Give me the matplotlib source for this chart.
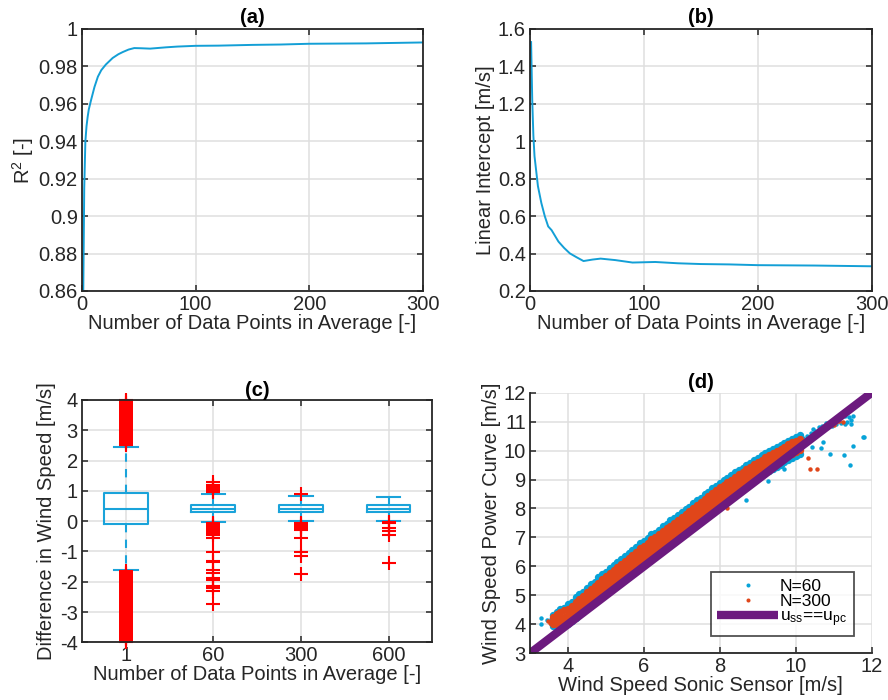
import matplotlib
matplotlib.use("Agg")
import matplotlib.pyplot as plt
from matplotlib.ticker import FuncFormatter, FixedLocator

plt.rcParams['font.family'] = ['Liberation Sans', 'DejaVu Sans']
plt.rcParams['mathtext.fontset'] = 'custom'
plt.rcParams['mathtext.rm'] = 'Liberation Sans'
plt.rcParams['mathtext.it'] = 'Liberation Sans:italic'
plt.rcParams['mathtext.bf'] = 'Liberation Sans:bold'
plt.rcParams['axes.unicode_minus'] = False

# ---------------- data ----------------
# (a) R^2 vs number of data points in average
a_n = [1, 2, 3, 4, 5, 6, 8, 11, 14, 17, 21, 27, 32, 36, 41, 46, 52, 60, 74, 84,
       100, 120, 150, 175, 200, 250, 300]
a_r2 = [0.85, 0.915, 0.94, 0.948, 0.953, 0.957, 0.962, 0.969, 0.9745, 0.978, 0.981,
        0.9845, 0.9865, 0.9877, 0.989, 0.9898, 0.9897, 0.9895, 0.9902, 0.9906,
        0.991, 0.9911, 0.9915, 0.9917, 0.9921, 0.9923, 0.9928]

# (b) linear intercept vs number of data points in average
b_n = [1, 2, 3, 4, 7, 10, 13, 16, 19, 25, 30, 35, 41, 47, 55, 62, 75, 90, 110,
       130, 150, 175, 200, 250, 300]
b_int = [1.53, 1.22, 1.03, 0.92, 0.76, 0.67, 0.60, 0.545, 0.525, 0.464, 0.43, 0.401,
         0.38, 0.36, 0.368, 0.373, 0.365, 0.352, 0.355, 0.348, 0.344, 0.342, 0.338,
         0.336, 0.332]

# (c) box plot statistics
c_labels = ['1', '60', '300', '600']
c_q1 = [-0.09, 0.29, 0.30, 0.30]
c_med = [0.39, 0.41, 0.41, 0.41]
c_q3 = [0.92, 0.54, 0.54, 0.54]
c_whislo = [-1.61, -0.04, 0.00, 0.02]
c_whishi = [2.45, 0.88, 0.84, 0.80]
c_fliers_1 = [2.50, 2.55, 2.60, 2.65, 2.70, 2.75, 2.80, 2.85, 2.90, 2.95, 3.00, 3.05,
              3.10, 3.15, 3.20, 3.25, 3.30, 3.35, 3.40, 3.45, 3.50, 3.55, 3.60, 3.65,
              3.70, 3.75, 3.80, 3.85, 3.90, 3.95, 4.00,
              -1.65, -1.70, -1.75, -1.80, -1.85, -1.90, -1.95, -2.00, -2.05, -2.10,
              -2.15, -2.20, -2.25, -2.30, -2.35, -2.40, -2.45, -2.50, -2.55, -2.60,
              -2.65, -2.70, -2.75, -2.80, -2.85, -2.90, -2.95, -3.00, -3.05, -3.10,
              -3.15, -3.20, -3.25, -3.30, -3.35, -3.40, -3.45, -3.50, -3.55, -3.60,
              -3.65, -3.70, -3.75, -3.80, -3.85, -3.90, -3.95, -4.00]
c_fliers_60 = [0.95, 1.00, 1.05, 1.10, 1.15, 1.20, 1.28,
               -0.05, -0.10, -0.15, -0.20, -0.25, -0.30, -0.35, -0.40, -0.45,
               -0.57, -1.01, -1.32, -1.36, -1.62, -1.71, -1.89, -1.95, -2.15,
               -2.22, -2.31, -2.74]
c_fliers_300 = [0.88, -0.05, -0.10, -0.15, -0.20, -0.25, -0.30,
                -0.57, -1.03, -1.15, -1.76]
c_fliers_600 = [-0.03, -0.06, -0.24, -0.34, -0.45, -1.39]

# (d) scatter: wind speed power curve vs sonic sensor
d_x = [3.6, 3.7, 3.8, 3.9, 4.0, 4.1, 4.2, 4.3, 4.4, 4.5, 4.6, 4.7, 4.8, 4.9, 5.0,
       5.1, 5.2, 5.3, 5.4, 5.5, 5.6, 5.7, 5.8, 5.9, 6.0, 6.1, 6.2, 6.3, 6.4, 6.5,
       6.6, 6.7, 6.8, 6.9, 7.0, 7.1, 7.2, 7.3, 7.4, 7.5, 7.6, 7.7, 7.8, 7.9, 8.0,
       8.1, 8.2, 8.3, 8.4, 8.5, 8.6, 8.7, 8.8, 8.9, 9.0, 9.1, 9.2, 9.3, 9.4, 9.5,
       9.6, 9.7, 9.8, 9.9, 10.0, 10.1]
d_n60_upper = [4.33, 4.43, 4.52, 4.57, 4.69, 4.78, 4.93, 5.04, 5.12, 5.27, 5.38, 5.47,
               5.62, 5.73, 5.82, 5.95, 6.05, 6.16, 6.27, 6.35, 6.48, 6.57, 6.68, 6.80,
               6.88, 6.98, 7.12, 7.17, 7.27, 7.40, 7.46, 7.60, 7.67, 7.77, 7.88, 7.98,
               8.06, 8.18, 8.30, 8.37, 8.50, 8.56, 8.70, 8.78, 8.88, 8.98, 9.06, 9.15,
               9.26, 9.32, 9.41, 9.50, 9.58, 9.68, 9.75, 9.83, 9.90, 9.98, 10.05, 10.12,
               10.19, 10.26, 10.33, 10.39, 10.46, 10.52]
d_n60_lower = [3.95, 3.96, 3.97, 3.99, 4.02, 4.10, 4.22, 4.33, 4.43, 4.56, 4.67, 4.78,
               4.89, 5.01, 5.11, 5.23, 5.33, 5.44, 5.53, 5.65, 5.76, 5.86, 5.97, 6.06,
               6.18, 6.27, 6.38, 6.46, 6.56, 6.67, 6.76, 6.86, 6.95, 7.05, 7.15, 7.25,
               7.37, 7.46, 7.56, 7.67, 7.77, 7.87, 7.97, 8.08, 8.18, 8.27, 8.36, 8.45,
               8.54, 8.63, 8.71, 8.80, 8.89, 8.98, 9.07, 9.14, 9.22, 9.29, 9.37, 9.44,
               9.51, 9.59, 9.66, 9.74, 9.81, 9.88]
d_n60_extra_x = [3.30, 3.30, 3.45, 3.55, 3.55, 10.2, 10.3, 10.4, 10.5, 10.45, 10.6, 10.7,
                 10.8, 10.9, 11.0, 11.1, 11.2, 11.3, 11.4, 11.45, 11.5, 11.35, 11.2,
                 11.05, 10.95, 10.85, 10.6, 11.3, 11.45, 10.7,
                 10.71, 10.66, 10.42, 10.89, 11.26, 11.50, 11.43, 11.76, 11.80, 9.70,
                 9.28, 8.69, 10.07]
d_n60_extra_y = [4.21, 4.01, 4.15, 4.20, 4.00, 10.45, 10.50, 10.62, 10.68, 10.75, 10.80,
                 10.85, 10.95, 11.00, 11.05, 11.10, 11.15, 11.20, 11.15, 11.05, 11.20,
                 11.00, 10.95, 10.90, 10.85, 10.80, 10.65, 10.92, 10.90, 10.72,
                 10.31, 10.08, 10.13, 9.88, 9.85, 10.16, 9.50, 10.46, 10.46, 9.35,
                 8.95, 8.29, 9.80]
d_n300_upper = [4.26, 4.34, 4.41, 4.48, 4.54, 4.64, 4.76, 4.87, 4.99, 5.10, 5.21, 5.33,
                5.43, 5.55, 5.66, 5.77, 5.88, 5.98, 6.09, 6.19, 6.30, 6.41, 6.51, 6.62,
                6.72, 6.82, 6.93, 7.01, 7.11, 7.22, 7.31, 7.41, 7.51, 7.60, 7.70, 7.81,
                7.91, 8.01, 8.12, 8.22, 8.32, 8.42, 8.53, 8.63, 8.73, 8.82, 8.91, 9.00,
                9.09, 9.18, 9.26, 9.35, 9.44, 9.53, 9.61, 9.69, 9.77, 9.84, 9.91, 9.99,
                10.06, 10.14, 10.21, 10.28, 10.34, 10.40]
d_n300_mid = [4.10, 4.15, 4.22, 4.27, 4.33, 4.43, 4.54, 4.67, 4.77, 4.88, 5.01, 5.11,
              5.21, 5.35, 5.45, 5.55, 5.67, 5.77, 5.86, 5.98, 6.10, 6.19, 6.29, 6.41,
              6.51, 6.60, 6.72, 6.80, 6.89, 7.01, 7.10, 7.19, 7.30, 7.39, 7.48, 7.60,
              7.70, 7.79, 7.91, 8.01, 8.10, 8.22, 8.31, 8.41, 8.52, 8.62, 8.70, 8.78,
              8.89, 8.97, 9.04, 9.15, 9.23, 9.31, 9.41, 9.49, 9.55, 9.63, 9.72, 9.78,
              9.85, 9.94, 10.00, 10.07, 10.15, 10.22]
d_n300_lower = [4.00, 4.02, 4.05, 4.09, 4.13, 4.23, 4.35, 4.46, 4.57, 4.69, 4.80, 4.91,
                5.02, 5.14, 5.25, 5.36, 5.46, 5.57, 5.67, 5.78, 5.89, 5.99, 6.10, 6.20,
                6.31, 6.41, 6.51, 6.60, 6.70, 6.80, 6.90, 7.00, 7.09, 7.19, 7.29, 7.39,
                7.50, 7.60, 7.70, 7.81, 7.91, 8.01, 8.11, 8.22, 8.32, 8.41, 8.50, 8.59,
                8.68, 8.77, 8.85, 8.94, 9.03, 9.12, 9.21, 9.28, 9.36, 9.43, 9.51, 9.58,
                9.65, 9.73, 9.80, 9.88, 9.95, 10.02]
d_n300_extra_x = [3.48, 3.52, 10.85, 10.95, 11.05, 11.15, 11.25, 11.0,
                  10.31, 10.38, 10.55, 8.20]
d_n300_extra_y = [4.11, 4.05, 10.90, 10.95, 11.00, 11.02, 11.00, 10.88,
                  9.73, 9.35, 9.36, 8.01]
d_line = [3, 12]

# ---------------- style ----------------
TXT = '#262626'
GRID = '#dfdfdf'
LINE_BLUE = '#139fd6'
BOX_BLUE = '#1aa3da'
RED = '#ff0000'
DOT_BLUE = '#07a3d8'
DOT_ORANGE = '#e0461a'
PURPLE = '#6c1a7e'
FS = 14.5

fig = plt.figure(figsize=(8.88, 7.0), dpi=100)
axA = fig.add_axes([0.0923, 0.5843, 0.3840, 0.3743])
axB = fig.add_axes([0.5968, 0.5843, 0.3849, 0.3743])
axC = fig.add_axes([0.0923, 0.0824, 0.3946, 0.3462])
axD = fig.add_axes([0.5968, 0.0667, 0.3849, 0.3724])

fmt = FuncFormatter(lambda v, p: ('%g' % round(v, 6)))


def style(ax, box=True):
    ax.set_axisbelow(True)
    ax.grid(True, color=GRID, lw=1.1)
    for side, sp in ax.spines.items():
        sp.set_color(TXT)
        sp.set_linewidth(1.3)
        if not box and side in ('top', 'right'):
            sp.set_visible(False)
    ax.tick_params(direction='in', length=4.5, width=1.1, top=box, right=box,
                   labelsize=FS, colors=TXT, pad=3)


# (a)
style(axA)
axA.plot(a_n, a_r2, color=LINE_BLUE, lw=1.4)
axA.set_xlim(0, 300)
axA.set_ylim(0.86, 1.0)
axA.set_xticks([0, 100, 200, 300])
axA.set_yticks([0.86, 0.88, 0.90, 0.92, 0.94, 0.96, 0.98, 1.0])
axA.yaxis.set_major_formatter(fmt)
axA.set_xlabel('Number of Data Points in Average [-]', fontsize=FS, color=TXT, labelpad=0)
axA.set_ylabel(r'R$^{\mathrm{2}}$ [-]', fontsize=FS, color=TXT, labelpad=2)
axA.set_title('(a)', fontsize=FS, fontweight='bold', pad=4)

# (b)
style(axB)
axB.plot(b_n, b_int, color=LINE_BLUE, lw=1.4)
axB.set_xlim(0, 300)
axB.set_ylim(0.2, 1.6)
axB.set_xticks([0, 100, 200, 300])
axB.set_yticks([0.2, 0.4, 0.6, 0.8, 1.0, 1.2, 1.4, 1.6])
axB.yaxis.set_major_formatter(fmt)
axB.set_xlabel('Number of Data Points in Average [-]', fontsize=FS, color=TXT, labelpad=0)
axB.set_ylabel('Linear Intercept [m/s]', fontsize=FS, color=TXT, labelpad=2)
axB.set_title('(b)', fontsize=FS, fontweight='bold', pad=4)

# (c)
style(axC)
c_fliers = [c_fliers_1, c_fliers_60, c_fliers_300, c_fliers_600]
stats = []
for i in range(len(c_labels)):
    stats.append(dict(med=c_med[i], q1=c_q1[i], q3=c_q3[i], whislo=c_whislo[i],
                      whishi=c_whishi[i], fliers=c_fliers[i]))
axC.bxp(stats, positions=[1, 2, 3, 4], widths=0.5, capwidths=0.27,
        boxprops=dict(color=BOX_BLUE, lw=1.5),
        medianprops=dict(color=BOX_BLUE, lw=1.5),
        whiskerprops=dict(color=BOX_BLUE, lw=1.5, linestyle=(0, (4, 3.5))),
        capprops=dict(color=BOX_BLUE, lw=1.5),
        flierprops=dict(marker='+', markeredgecolor=RED, markersize=9.5,
                        markeredgewidth=1.5, linestyle='none', clip_on=False),
        manage_ticks=False)
axC.set_xlim(0.5, 4.5)
axC.set_ylim(-4, 4)
axC.xaxis.set_major_locator(FixedLocator([1, 2, 3, 4]))
axC.set_xticklabels(c_labels)
axC.set_yticks([-4, -3, -2, -1, 0, 1, 2, 3, 4])
axC.set_xlabel('Number of Data Points in Average [-]', fontsize=FS, color=TXT, labelpad=0)
axC.set_ylabel('Difference in Wind Speed [m/s]', fontsize=FS, color=TXT, labelpad=3)
axC.set_title('(c)', fontsize=FS, fontweight='bold', pad=3)

# (d)
style(axD, box=False)
h60, = axD.plot(d_x + d_x, d_n60_upper + d_n60_lower, 'o', color=DOT_BLUE,
                ms=5.3, mec='none', label='N=60')
axD.plot(d_n60_extra_x, d_n60_extra_y, 'o', color=DOT_BLUE, ms=3.2, mec='none')
h300, = axD.plot(d_x + d_x + d_x, d_n300_upper + d_n300_mid + d_n300_lower, 'o',
                 color=DOT_ORANGE, ms=5.3, mec='none', label='N=300')
axD.plot(d_n300_extra_x, d_n300_extra_y, 'o', color=DOT_ORANGE, ms=3.2, mec='none')
hl, = axD.plot(d_line, d_line, color=PURPLE, lw=6, solid_capstyle='butt',
               label=r'u$_{\mathrm{ss}}$==u$_{\mathrm{pc}}$')
axD.set_xlim(3, 12)
axD.set_ylim(3, 12)
axD.set_xticks([4, 6, 8, 10, 12])
axD.set_yticks([3, 4, 5, 6, 7, 8, 9, 10, 11, 12])
axD.set_xlabel('Wind Speed Sonic Sensor [m/s]', fontsize=FS, color=TXT, labelpad=0)
axD.set_ylabel('Wind Speed Power Curve [m/s]', fontsize=FS, color=TXT, labelpad=2)
axD.set_title('(d)', fontsize=FS, fontweight='bold', pad=3)
leg = axD.legend(handles=[h60, h300, hl], loc='lower right',
                 bbox_to_anchor=(0.948, 0.0675), borderaxespad=0, fontsize=12.5,
                 frameon=True, fancybox=False, edgecolor='#262626',
                 handlelength=3.5, handletextpad=0.1, labelspacing=0.0,
                 borderpad=0.4, markerscale=0.55)
leg.get_frame().set_linewidth(1.3)

fig.savefig('out.png', dpi=100)
